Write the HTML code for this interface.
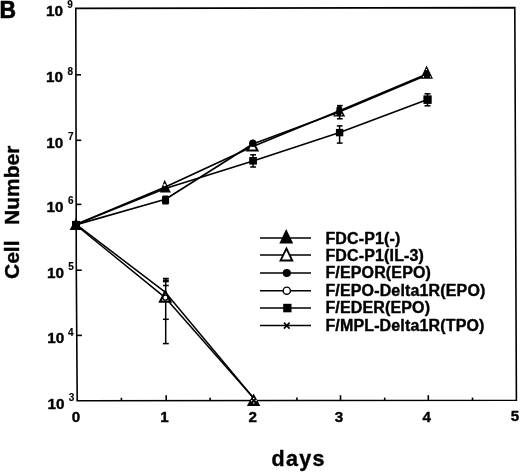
<!DOCTYPE html>
<html><head><meta charset="utf-8">
<style>
html,body{margin:0;padding:0;background:#fff;}
body{width:520px;height:472px;overflow:hidden;}
svg{display:block;}
text{font-family:"Liberation Sans",Arial,Helvetica,sans-serif;font-weight:bold;fill:#000;stroke:#000;stroke-width:0.4px;stroke-linejoin:round;}
.sup text{stroke-width:0.15px;}
</style></head>
<body>
<svg width="520" height="472" viewBox="0 0 520 472">
<defs><filter id="sb" x="0" y="0" width="1" height="1"><feGaussianBlur stdDeviation="0.3"/></filter></defs>
<rect width="520" height="472" fill="#fff"/>
<g filter="url(#sb)">
<!-- panel label -->
<text transform="translate(-0.5,18.35) scale(0.93,1)" font-size="24.6" style="stroke-width:0.7px">B</text>

<!-- frame -->
<g stroke="#000" stroke-width="1.6" fill="none" stroke-linecap="square">
  <path d="M75.8,8.4 L514.8,7.6 L516.4,400.3 L77.2,400.8 L76.3,270 Z"/>
</g>

<!-- y ticks -->
<g stroke="#000" stroke-width="1.6">
  <line x1="76.2" y1="74.8" x2="81" y2="74.8"/>
  <line x1="76.4" y1="140.3" x2="81.2" y2="140.3"/>
  <line x1="76.6" y1="204.4" x2="81.4" y2="204.4"/>
  <line x1="76.9" y1="270.2" x2="81.7" y2="270.2"/>
  <line x1="77.1" y1="335.4" x2="81.9" y2="335.4"/>
</g>
<!-- x ticks -->
<g stroke="#000" stroke-width="1.6">
  <line x1="121.4" y1="400.8" x2="121.4" y2="397.8"/>
  <line x1="166.2" y1="400.7" x2="166.2" y2="395.3"/>
  <line x1="210.1" y1="400.6" x2="210.1" y2="397.8"/>
  <line x1="253.5" y1="400.6" x2="253.5" y2="395.3"/>
  <line x1="296.9" y1="400.5" x2="296.9" y2="397.6"/>
  <line x1="340.5" y1="400.5" x2="340.5" y2="395.2"/>
  <line x1="384.7" y1="400.4" x2="384.7" y2="397.6"/>
  <line x1="428.3" y1="400.4" x2="428.3" y2="395.2"/>
  <line x1="472.5" y1="400.3" x2="472.5" y2="397.6"/>
</g>

<!-- y tick labels -->
<g font-size="15.3">
  <text x="45.9" y="15.7">10</text>
  <text x="46.0" y="82.3">10</text>
  <text x="46.3" y="147.8">10</text>
  <text x="46.6" y="212">10</text>
  <text x="47.0" y="277.7">10</text>
  <text x="47.3" y="343">10</text>
  <text x="47.5" y="408.6">10</text>
</g>
<g class="sup" font-size="10">
  <text x="67.2" y="7.6">9</text>
  <text x="67.4" y="74.8">8</text>
  <text x="68.0" y="139.7">7</text>
  <text x="68.0" y="203.8">6</text>
  <text x="68.2" y="269.6">5</text>
  <text x="68.1" y="335.5">4</text>
  <text x="68.8" y="400.6">3</text>
</g>

<!-- x tick labels -->
<g font-size="15.2" text-anchor="middle">
  <text x="75.9" y="422.4">0</text>
  <text x="164.4" y="422.4">1</text>
  <text x="252.8" y="422.4">2</text>
  <text x="339" y="422.4">3</text>
  <text x="426.8" y="422.4">4</text>
  <text x="515" y="421.4">5</text>
</g>

<!-- axis titles -->
<text x="271.6" y="466.2" font-size="21.5" letter-spacing="1.3">days</text>
<g transform="translate(18.6,0) rotate(-90)">
  <text x="-279" y="0" font-size="21">Cell</text>
  <text x="-225" y="0" font-size="21">Number</text>
</g>

<!-- legend -->
<g transform="translate(0,0.6)">
<g stroke="#000" stroke-width="1.5">
  <line x1="260" y1="237.3" x2="311" y2="237.3"/>
  <line x1="260" y1="254.5" x2="311" y2="254.5"/>
  <line x1="260" y1="272.4" x2="311" y2="272.4"/>
  <line x1="260" y1="290.1" x2="311" y2="290.1"/>
  <line x1="260" y1="307.3" x2="311" y2="307.3"/>
  <line x1="260" y1="325" x2="311" y2="325"/>
</g>
<polygon points="286.2,228.5 293.2,242.9 279.3,242.9" fill="#000"/>
<polygon points="286.4,247.9 292.3,259.9 280.5,259.9" fill="#fff" stroke="#000" stroke-width="1.8"/>
<circle cx="286.8" cy="272.4" r="4.1" fill="#000"/>
<circle cx="286.8" cy="290.1" r="3.6" fill="#fff" stroke="#000" stroke-width="1.4"/>
<rect x="283.2" y="303.2" width="8.3" height="8.5" fill="#000"/>
<path d="M284,322 L289.6,328 M289.6,322 L284,328" stroke="#000" stroke-width="1.6"/>
</g>
<g font-size="16" letter-spacing="0.15">
  <text x="325.4" y="244.2">FDC-P1(-)</text>
  <text x="325.4" y="260.6">FDC-P1(IL-3)</text>
  <text x="325.4" y="277.9">F/EPOR(EPO)</text>
  <text x="325.4" y="295.5">F/EPO-Delta1R(EPO)</text>
  <text x="325.4" y="313">F/EDER(EPO)</text>
  <text x="325.4" y="330.5">F/MPL-Delta1R(TPO)</text>
</g>

<!-- data lines -->
<g stroke="#000" fill="none" stroke-linejoin="round">
  <polyline stroke-width="1.7" points="76.5,224.3 165.3,187 252.8,146.5 339,111 427,74"/>
  <polyline stroke-width="1.6" points="76.5,224.3 165.3,188.5 253,161 339.6,132.4 427.5,99.5"/>
  <polyline stroke-width="1.7" points="76.5,224.6 165.5,199.3 252.8,144 339,112 427,75"/>
  <polyline stroke-width="1.5" points="76.5,224.6 165.5,292.4 253.5,398"/>
  <polyline stroke-width="1.5" points="76.5,225.5 165.5,297.9 253.5,398"/>
</g>

<!-- error bars -->
<g stroke="#000" stroke-width="1.5">
  <line x1="165.7" y1="278.5" x2="165.7" y2="343.6"/>
  <line x1="162.9" y1="278.5" x2="168.8" y2="278.5"/>
  <line x1="162.9" y1="280.2" x2="168.8" y2="280.2"/>
  <line x1="162.9" y1="281.6" x2="168.8" y2="281.6"/>
  <line x1="162.9" y1="285.5" x2="168.8" y2="285.5"/>
  <line x1="162.9" y1="319.3" x2="168.8" y2="319.3"/>
  <line x1="162.9" y1="343.6" x2="168.8" y2="343.6"/>
  <!-- day2 square -->
  <line x1="253" y1="154.8" x2="253" y2="167"/>
  <line x1="250.2" y1="154.8" x2="256" y2="154.8"/>
  <line x1="250.2" y1="167" x2="256" y2="167"/>
  <!-- day3 -->
  <line x1="339.6" y1="125.9" x2="339.6" y2="143.1"/>
  <line x1="336.8" y1="125.9" x2="342.6" y2="125.9"/>
  <line x1="336.8" y1="143.1" x2="342.6" y2="143.1"/>
  <line x1="339.6" y1="105.6" x2="339.6" y2="118.8"/>
  <line x1="337" y1="105.6" x2="342.7" y2="105.6"/>
  <line x1="337" y1="118.8" x2="342.7" y2="118.8"/>
  <!-- day4 -->
  <line x1="427.5" y1="93.8" x2="427.5" y2="105.8"/>
  <line x1="424.5" y1="93.8" x2="430.5" y2="93.8"/>
  <line x1="424.5" y1="105.8" x2="430.5" y2="105.8"/>
</g>

<!-- markers -->
<g fill="#000">
  <!-- day0 cluster -->
  <polygon points="76.1,218 81.5,230.1 69.6,230.1"/>
  <rect x="72" y="220.9" width="8" height="7.6"/>
  <!-- day1 upper -->
  <polygon points="164.6,179.8 170.9,192.4 159.8,192.4"/>
  <rect x="162" y="195.4" width="7.1" height="9.2" rx="1.5"/>
  <!-- day1 lower (open triangle w/ open circle) -->
  <polygon points="165.3,291.2 170.4,301.6 160.1,301.6" fill="#fff" stroke="#000" stroke-width="2.2"/>
  <circle cx="165.4" cy="297.6" r="2.5" fill="#fff" stroke="#000" stroke-width="1.3"/>
  <!-- day2 -->
  <polygon points="252.5,141.5 257.6,150.5 247.3,150.5" fill="#fff" stroke="#000" stroke-width="1.9"/>
  <circle cx="252.8" cy="143.2" r="3.7"/>
  <rect x="249.2" y="157" width="7.7" height="7.6"/>
  <polygon points="253.6,393.4 260.3,406.1 246.9,406.1"/>
  <!-- day3 -->
  <polygon points="339,105 345.2,116.4 333.2,116.4"/>
  <circle cx="339.3" cy="108.6" r="2.9"/>
  <rect x="335.9" y="128.9" width="7.4" height="7.4"/>
  <!-- day4 -->
  <polygon points="426.6,65.6 433,78.7 420.4,78.7"/>
  <rect x="423.4" y="95.4" width="8.3" height="8.5"/>
</g>
<g fill="#fff">
  <circle cx="164.6" cy="185" r="1.2"/>
  <circle cx="335.9" cy="114.7" r="0.7"/>
  <circle cx="341.8" cy="114.7" r="0.7"/>
  <circle cx="426.5" cy="69.6" r="0.7"/>
  <circle cx="423.4" cy="76.8" r="0.7"/>
  <circle cx="430.4" cy="76.9" r="0.6"/>
  <circle cx="253.7" cy="398.4" r="0.75"/>
  <circle cx="251.6" cy="400.7" r="0.75"/>
  <circle cx="256.1" cy="400.6" r="0.75"/>
  <circle cx="253.7" cy="402.9" r="0.75"/>
</g>
</g>
</svg>
</body></html>
